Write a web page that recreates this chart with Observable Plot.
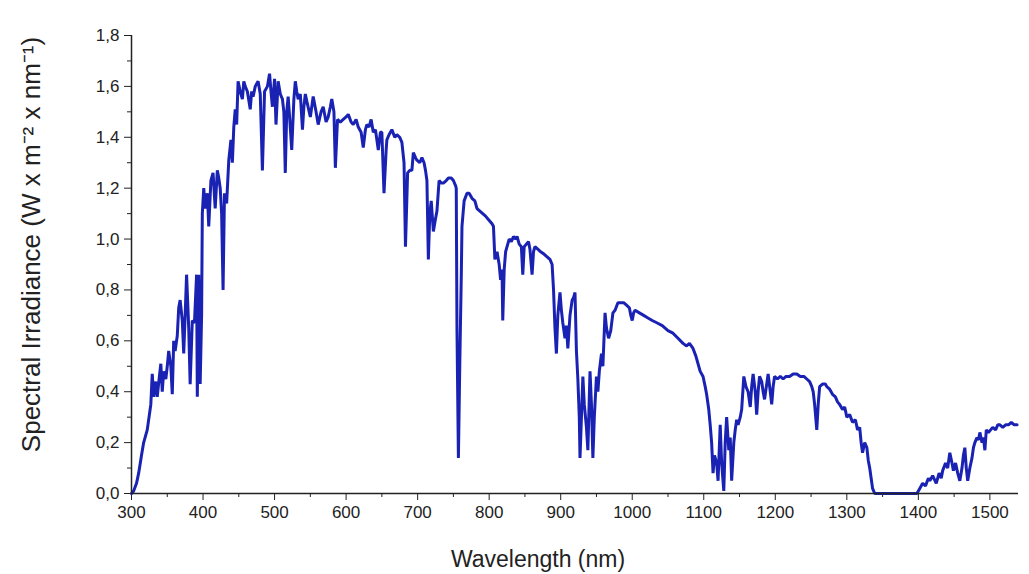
<!DOCTYPE html>
<html>
<head>
<meta charset="utf-8">
<script src="https://cdn.jsdelivr.net/npm/d3@7"></script>
<script src="https://cdn.jsdelivr.net/npm/@observablehq/plot@0.6"></script>
<style>
  html, body { margin: 0; padding: 0; background: #fff; }
  #chart { width: 1029px; height: 574px; }
</style>
</head>
<body>
<div id="chart"></div>
<script>
const wavelength = [
  300,303,307,310,314,317,322,327,329,331,334,336,339,341,343,345,348,350,352,355,357,359,361,364,366,368,371,373,375,377,380,382,385,388,391,392,394,396,398,399,
  401,403,406,408,411,414,417,420,422,424,426,428,430,433,436,439,441,443,445,447,449,452,455,457,459,462,466,468,470,473,477,480,483,486,490,493,495,497,500,
  502,505,508,511,513,515,517,519,521,524,527,529,531,533,536,539,541,543,546,550,554,558,561,565,568,572,575,578,580,583,585,588,592,596,600,
  603,607,610,614,617,621,624,627,629,632,635,638,641,645,648,650,653,656,657,660,664,668,671,675,678,681,683,686,689,692,694,697,699,
  703,706,709,711,713,715,717,719,722,725,727,730,733,736,740,743,747,750,753,754,755,757,759,761,762,765,769,772,776,780,783,787,791,795,798,
  801,804,806,808,811,814,816,818,819,821,823,825,828,831,834,837,839,842,845,847,849,852,855,857,860,862,864,868,872,877,881,885,888,890,892,894,896,899,
  901,903,906,908,910,913,916,918,920,922,924,926,927,929,931,933,936,938,940,941,943,945,947,950,952,954,957,959,962,964,967,970,973,976,980,984,988,992,996,998,
  1000,1002,1004,1010,1016,1022,1028,1035,1042,1050,1057,1064,1071,1076,1080,1085,1089,1092,1095,1099,
  1102,1104,1107,1109,1111,1113,1115,1118,1120,1123,1125,1128,1130,1132,1135,1137,1139,1142,1144,1146,1148,1151,1153,1156,1159,1162,1165,1167,1169,1172,1174,1176,1178,1181,1183,1185,1188,1190,1193,1195,1197,1199,
  1203,1207,1211,1215,1220,1225,1230,1235,1240,1244,1248,1251,1253,1255,1258,1260,1262,1266,1270,1272,1276,1280,1284,1287,1290,1294,1297,1300,
  1304,1308,1312,1315,1318,1320,1322,1325,1328,1330,1332,1334,1336,1339,1398,
  1402,1406,1410,1414,1416,1420,1425,1429,1432,1434,1438,1441,1444,1447,1449,1452,1455,1458,1461,1463,1465,1467,1469,1472,1475,1477,1479,1482,1484,1486,1489,1491,1493,1495,1498,
  1501,1504,1508,1511,1514,1518,1522,1526,1530,1534,1538
];
const irradiance = [
  0.00,0.01,0.04,0.08,0.15,0.20,0.25,0.35,0.47,0.38,0.44,0.38,0.46,0.51,0.40,0.48,0.45,0.50,0.56,0.50,0.39,0.60,0.56,0.62,0.73,0.76,0.68,0.55,0.70,0.86,0.65,0.43,0.68,0.67,0.86,0.38,0.86,0.43,0.70,1.10,
  1.20,1.12,1.18,1.05,1.23,1.26,1.12,1.27,1.24,1.20,1.10,0.80,1.18,1.14,1.31,1.39,1.30,1.44,1.51,1.45,1.62,1.58,1.55,1.62,1.60,1.58,1.51,1.58,1.56,1.60,1.62,1.57,1.27,1.58,1.60,1.65,1.58,1.52,1.63,
  1.45,1.62,1.57,1.55,1.50,1.26,1.50,1.56,1.48,1.35,1.55,1.62,1.58,1.55,1.57,1.43,1.52,1.57,1.53,1.48,1.56,1.50,1.45,1.50,1.52,1.46,1.48,1.52,1.55,1.50,1.28,1.47,1.46,1.47,1.48,
  1.49,1.46,1.45,1.47,1.44,1.42,1.36,1.43,1.45,1.44,1.47,1.42,1.43,1.35,1.42,1.42,1.18,1.35,1.39,1.41,1.43,1.40,1.41,1.40,1.38,1.30,0.97,1.26,1.27,1.27,1.34,1.32,1.31,
  1.30,1.32,1.30,1.27,1.23,0.92,1.10,1.15,1.03,1.08,1.11,1.23,1.22,1.22,1.23,1.24,1.24,1.23,1.21,1.20,0.65,0.14,0.52,0.85,1.05,1.15,1.18,1.18,1.16,1.15,1.12,1.11,1.10,1.09,1.08,
  1.07,1.06,1.05,0.92,0.95,0.90,0.84,0.88,0.68,0.88,0.95,0.97,1.00,0.99,1.01,1.00,1.01,0.98,0.97,0.86,0.97,0.98,0.99,0.96,0.86,0.95,0.97,0.96,0.95,0.94,0.93,0.92,0.90,0.80,0.65,0.55,0.70,0.79,
  0.72,0.67,0.61,0.66,0.57,0.70,0.76,0.77,0.79,0.56,0.45,0.30,0.14,0.30,0.46,0.35,0.26,0.17,0.38,0.48,0.35,0.14,0.30,0.46,0.40,0.48,0.55,0.50,0.71,0.65,0.61,0.64,0.71,0.72,0.75,0.75,0.75,0.74,0.73,0.70,
  0.68,0.71,0.72,0.71,0.70,0.69,0.68,0.67,0.66,0.64,0.63,0.61,0.59,0.58,0.59,0.57,0.54,0.51,0.48,0.46,
  0.42,0.39,0.33,0.27,0.20,0.08,0.15,0.12,0.05,0.27,0.12,0.01,0.20,0.30,0.17,0.22,0.05,0.20,0.25,0.29,0.27,0.30,0.33,0.46,0.42,0.40,0.34,0.42,0.47,0.40,0.31,0.40,0.46,0.44,0.40,0.37,0.43,0.47,0.40,0.35,0.42,0.46,
  0.45,0.46,0.45,0.46,0.46,0.47,0.47,0.46,0.46,0.45,0.44,0.42,0.40,0.35,0.25,0.35,0.42,0.43,0.43,0.42,0.41,0.39,0.38,0.36,0.35,0.33,0.34,0.30,
  0.31,0.28,0.29,0.25,0.26,0.20,0.16,0.20,0.18,0.13,0.10,0.06,0.02,0.00,0.00,
  0.02,0.04,0.03,0.06,0.05,0.07,0.04,0.08,0.06,0.09,0.12,0.10,0.16,0.12,0.09,0.12,0.08,0.05,0.10,0.15,0.18,0.10,0.05,0.10,0.14,0.18,0.20,0.22,0.21,0.24,0.20,0.22,0.17,0.25,0.24,
  0.25,0.26,0.25,0.27,0.27,0.26,0.27,0.27,0.28,0.27,0.27
];
const xTicks = [300,400,500,600,700,800,900,1000,1100,1200,1300,1400,1500];
const xMinorTicks = [350,450,550,650,750,850,950,1050,1150,1250,1350,1450];
const yTicks = [0,0.2,0.4,0.6,0.8,1.0,1.2,1.4,1.6,1.8];
const yMinorTicks = [0.1,0.3,0.5,0.7,0.9,1.1,1.3,1.5,1.7];
const xLabel = "Wavelength (nm)";
const yLabel = "Spectral Irradiance (W x m\u207B\u00B2 x nm\u207B\u00B9)";

const data = wavelength.map((w, i) => ({w, v: irradiance[i]}));
const fmtY = d => d.toFixed(1).replace(".", ",");
const fmtX = d => String(d);
const ink = "#222";

const chart = Plot.plot({
  width: 1029,
  height: 574,
  marginLeft: 131,
  marginRight: 11,
  marginTop: 35,
  marginBottom: 81,
  style: {fontFamily: "'Liberation Sans', Arial, sans-serif", fontSize: "17px", color: ink, background: "#fff"},
  x: {domain: [300, 1540]},
  y: {domain: [0, 1.8]},
  marks: [
    Plot.axisX({ticks: xTicks, tickSize: 7, tickPadding: 5, tickFormat: fmtX, label: null, fontSize: 17, stroke: ink, fill: ink}),
    Plot.axisX({ticks: xMinorTicks, tickSize: 4, text: null, label: null, stroke: ink}),
    Plot.axisY({ticks: yTicks, tickSize: 7, tickPadding: 5, tickFormat: fmtY, label: null, fontSize: 17, stroke: ink, fill: ink}),
    Plot.axisY({ticks: yMinorTicks, tickSize: 4, text: null, label: null, stroke: ink}),
    Plot.line(data, {x: "w", y: "v", stroke: "#1a22b4", strokeWidth: 3, strokeLinejoin: "miter"}),
    Plot.ruleX([300], {stroke: ink, strokeWidth: 1.5}),
    Plot.ruleY([0], {stroke: ink, strokeWidth: 1.5}),
    Plot.text([xLabel], {frameAnchor: "bottom", textAnchor: "middle", dx: -37, dy: 73, text: d => d, fontSize: 23, fill: ink}),
    Plot.text([yLabel], {frameAnchor: "left", textAnchor: "middle", dx: -100, dy: -20, rotate: -90, text: d => d, fontSize: 26, fill: ink})
  ]
});
document.getElementById("chart").appendChild(chart);
</script>
</body>
</html>
